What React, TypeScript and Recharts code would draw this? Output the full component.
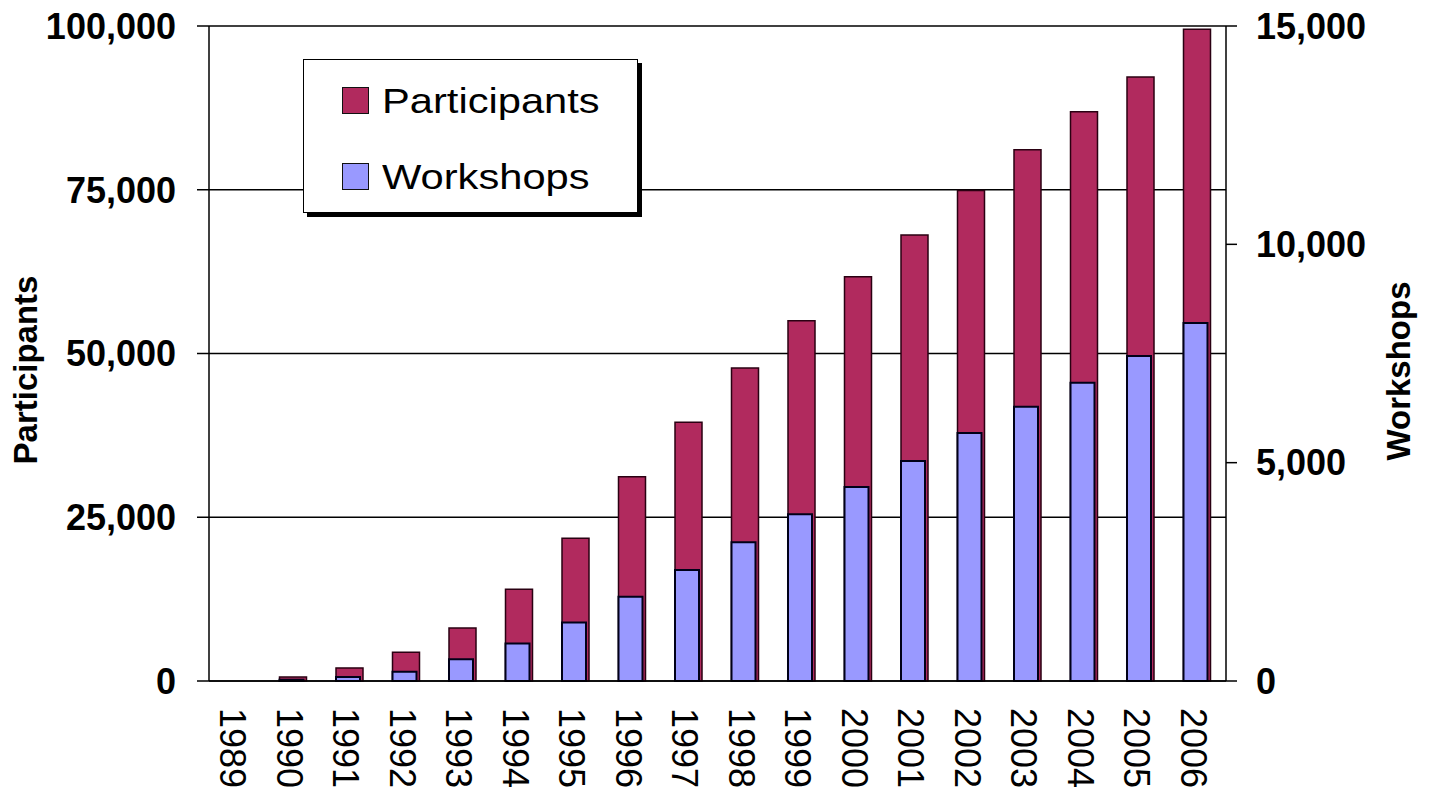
import React from 'react';
import { BarChart, Bar, XAxis, YAxis, CartesianGrid, Legend, Label } from 'recharts';

const years = ['1989', '1990', '1991', '1992', '1993', '1994', '1995', '1996', '1997', '1998', '1999', '2000', '2001', '2002', '2003', '2004', '2005', '2006'];
const participants = [0, 600, 2000, 4400, 8100, 14000, 21800, 31200, 39500, 47800, 55000, 61700, 68100, 74900, 81100, 86900, 92200, 99500];
const workshops = [0, 30, 90, 210, 500, 860, 1340, 1930, 2540, 3180, 3820, 4440, 5040, 5680, 6280, 6830, 7440, 8200];
const participantTicks = [0, 25000, 50000, 75000, 100000];
const workshopTicks = [0, 5000, 10000, 15000];

const data = years.map((y, i) => ({ year: y, participants: participants[i], workshops: workshops[i] }));

const MAROON = '#B12A5E';
const BLUE = '#9999FF';
const FONT = '"Liberation Sans", Arial, Helvetica, sans-serif';

const fmt = (v: number) => v.toLocaleString('en-US');

const YearTick = (props: any) => {
  const { x, y, payload } = props;
  return (
    <text
      transform={`translate(${x - 15},${y + 27}) rotate(90)`}
      fontFamily={FONT}
      fontSize={36}
      fill="#000"
      textAnchor="start"
    >
      {payload.value}
    </text>
  );
};

const LegendBox = (props: any) => {
  const payload = props.payload || [];
  return (
    <div
      style={{
        width: 335,
        height: 154,
        border: '1.5px solid #000',
        background: '#fff',
        boxShadow: '4px 4px 0 #000',
        position: 'relative',
        boxSizing: 'border-box',
        fontFamily: FONT,
      }}
    >
      {payload.map((it: any, i: number) => (
        <div
          key={it.value}
          style={{ position: 'absolute', left: 38, top: 27 + i * 76, display: 'flex', alignItems: 'flex-start', height: 27 }}
        >
          <span
            style={{
              display: 'inline-block',
              width: 27,
              height: 27,
              background: it.color,
              border: '1.5px solid #111',
              boxSizing: 'border-box',
            }}
          />
          <span
            style={{
              display: 'inline-block',
              marginLeft: 13,
              fontSize: 35,
              lineHeight: '27px',
              color: '#000',
              whiteSpace: 'nowrap',
              transform: 'scaleX(1.19)',
              transformOrigin: 'left center',
            }}
          >
            {it.value}
          </span>
        </div>
      ))}
    </div>
  );
};

const tickStyle = { fontFamily: FONT, fontSize: 36, fontWeight: 'bold', fill: '#000' } as any;

export default function App() {
  return (
    <div style={{ marginTop: -8 }}>
      <BarChart
        width={1413}
        height={788}
        data={data}
        margin={{ top: 26, right: 0, bottom: 7, left: 0 }}
        barGap={-27}
      >
        <CartesianGrid yAxisId="left" horizontal vertical={false} stroke="#000" strokeWidth={1.5} />
        <XAxis
          dataKey="year"
          interval={0}
          tickLine={false}
          tickSize={0}
          tickMargin={0}
          height={100}
          padding={{ left: -2, right: 2 }}
          axisLine={{ stroke: '#000', strokeWidth: 1.5 }}
          tick={<YearTick />}
        />
        <YAxis
          yAxisId="left"
          orientation="left"
          width={201}
          domain={[0, 100000]}
          ticks={participantTicks}
          interval={0}
          tickFormatter={fmt}
          tick={tickStyle}
          tickSize={12}
          tickMargin={21}
          axisLine={{ stroke: '#000', strokeWidth: 1.5 }}
          tickLine={{ stroke: '#000', strokeWidth: 1.5 }}
        >
          <Label
            content={() => (
              <text
                transform="translate(17,370) rotate(-90)"
                textAnchor="middle"
                dominantBaseline="central"
                fontFamily={FONT}
                fontSize={33}
                fontWeight="bold"
                fill="#000"
              >
                Participants
              </text>
            )}
          />
        </YAxis>
        <YAxis
          yAxisId="right"
          orientation="right"
          width={195}
          domain={[0, 15000]}
          ticks={workshopTicks}
          interval={0}
          tickFormatter={fmt}
          tick={tickStyle}
          tickSize={11}
          tickMargin={19}
          axisLine={{ stroke: '#000', strokeWidth: 1.5 }}
          tickLine={{ stroke: '#000', strokeWidth: 1.5 }}
        >
          <Label
            content={() => (
              <text
                transform="translate(1390,371) rotate(-90)"
                textAnchor="middle"
                dominantBaseline="central"
                fontFamily={FONT}
                fontSize={33}
                fontWeight="bold"
                fill="#000"
              >
                Workshops
              </text>
            )}
          />
        </YAxis>
        <Legend
          layout="vertical"
          align="center"
          verticalAlign="middle"
          wrapperStyle={{ left: 295, top: 59, width: 335, height: 154 }}
          content={<LegendBox />}
        />
        <Bar
          dataKey="participants"
          name="Participants"
          yAxisId="left"
          fill={MAROON}
          stroke="#2a0012"
          strokeWidth={1.5}
          barSize={27}
          isAnimationActive={false}
        />
        <Bar
          dataKey="workshops"
          name="Workshops"
          yAxisId="right"
          fill={BLUE}
          stroke="#000018"
          strokeWidth={2}
          barSize={24}
          isAnimationActive={false}
        />
      </BarChart>
    </div>
  );
}
